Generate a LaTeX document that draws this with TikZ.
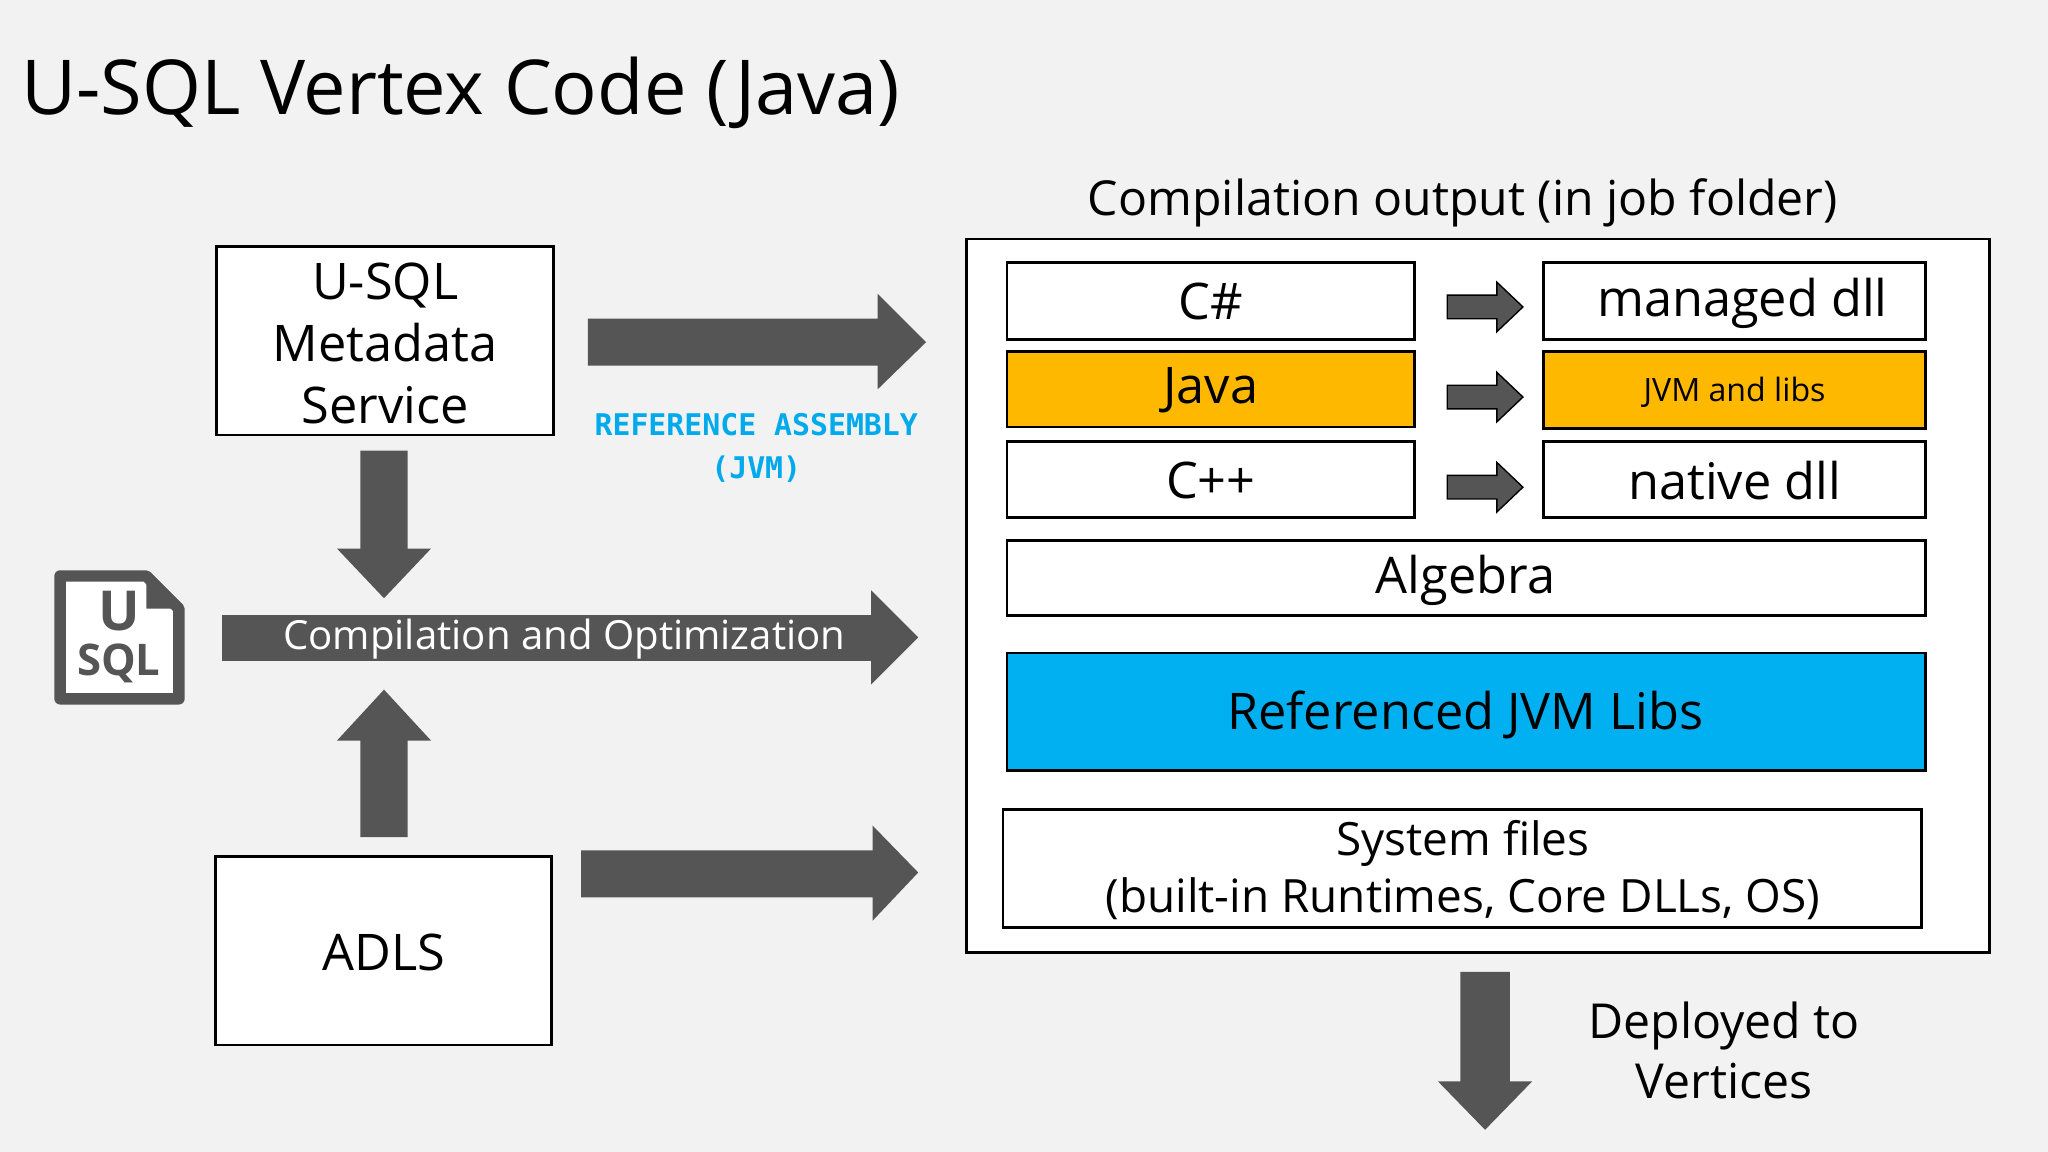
\documentclass[tikz,border=0pt]{standalone}
\usepackage{fontspec}
\setmainfont{Open Sans}
\newfontfamily\monofont{DejaVu Sans Mono}
\usetikzlibrary{positioning}
\definecolor{bggray}{RGB}{242,242,242}
\definecolor{arrowgray}{RGB}{85,85,85}
\definecolor{javaorange}{RGB}{255,184,0}
\definecolor{jvmblue}{RGB}{0,176,240}
\definecolor{refblue}{RGB}{0,170,235}

\tikzset{
  box/.style={draw=black, line width=1.2pt, fill=white, inner sep=0pt},
  bigarrow/.style={fill=arrowgray},
  boxtext/.style={font=\fontsize{22}{26}\selectfont, align=center},
}

\begin{document}
\begin{tikzpicture}[x=0.02cm,y=-0.02cm]
				\fill[bggray] (0,0) rectangle (1568,882);
				\useasboundingbox (0,0) rectangle (1568,882);
				% title
				\node[anchor=base west, font=\fontsize{33}{40}\selectfont] (title) at (10,88) {U-SQL Vertex Code (Java)};
				\node[font=\fontsize{21}{25}\selectfont] (outlabel) at (1120,155) {Compilation output (in job folder)};
				% left boxes
				\draw[box] (166,189) rectangle (424,333);
				\node[boxtext, text width=5cm] (meta) at (295,263) {U-SQL\\[1pt]Metadata\\[1pt]Service};
				\draw[box] (165,656) rectangle (422,800);
				\node[boxtext] (adls) at (294,729) {ADLS};
				% output container
				\draw[box] (740,183) rectangle (1523,729);
				\draw[box] (771,201) rectangle (1083,260);
				\node[boxtext] (cs) at (927,231) {C\#};
				\draw[box] (1182,201) rectangle (1474,260);
				\node[boxtext] (mdll) at (1334,232) {managed dll};
				\draw[box, fill=javaorange] (771,269) rectangle (1083,327);
				\node[boxtext] (java) at (927,299) {Java};
				\draw[box, fill=javaorange] (1182,269) rectangle (1474,328);
				\node[font=\fontsize{14}{17}\selectfont] (jvm) at (1328,300) {JVM and libs};
				\draw[box] (771,338) rectangle (1083,396);
				\node[boxtext] (cpp) at (927,368) {C++};
				\draw[box] (1182,338) rectangle (1474,396);
				\node[boxtext] (ndll) at (1328,368) {native dll};
				\draw[box] (771,414) rectangle (1474,471);
				\node[boxtext] (alg) at (1122,444) {Algebra};
				\draw[box, fill=jvmblue] (771,500) rectangle (1474,590);
				\node[boxtext] (reflibs) at (1122,547) {Referenced JVM Libs};
				\draw[box] (768,620) rectangle (1471,710);
				\node[font=\fontsize{20}{24}\selectfont, align=center] (sys) at (1120,666) {System files\\[1pt](built-in Runtimes, Core DLLs, OS)};
				% small arrows
				\foreach \yc in {235,304,373}
					\filldraw[fill=arrowgray, draw=black, line width=0.6pt] (1108,\yc-9) -- (1146,\yc-9) -- (1146,\yc-19) -- (1166,\yc) -- (1146,\yc+19) -- (1146,\yc+9) -- (1108,\yc+9) -- cycle;
				% big right arrows
				\fill[bigarrow] (450,244) -- (672,244) -- (672,225) -- (709,262) -- (672,298) -- (672,280) -- (450,280) -- cycle;
				\fill[bigarrow] (170,471) -- (667,471) -- (667,452) -- (703,488) -- (667,524) -- (667,506) -- (170,506) -- cycle;
				\fill[bigarrow] (445,651) -- (668,651) -- (668,632) -- (703,668) -- (668,705) -- (668,687) -- (445,687) -- cycle;
				\node[text=white, font=\fontsize{17.5}{22}\selectfont] (comp) at (432,489) {Compilation and Optimization};
				% vertical arrows
				\fill[bigarrow] (276,345) -- (312,345) -- (312,420) -- (330,420) -- (294,458) -- (258,420) -- (276,420) -- cycle;
				\fill[bigarrow] (276,641) -- (312,641) -- (312,567) -- (330,567) -- (294,528) -- (258,567) -- (276,567) -- cycle;
				\fill[bigarrow] (1118,744) -- (1156,744) -- (1156,828) -- (1173,828) -- (1137,865) -- (1101,828) -- (1118,828) -- cycle;
				\node[font=\fontsize{21}{25}\selectfont, align=center] (deploy) at (1320,804) {Deployed to\\[1pt]Vertices};
				% reference label
				\node[text=refblue, font=\monofont\bfseries\fontsize{13}{19}\selectfont, align=center] (refasm) at (579,343) {REFERENCE ASSEMBLY\\(JVM)};
				% U-SQL icon
				\draw[arrowgray, line width=5pt, line join=round, fill=white] (46,441) -- (112,441) -- (137,466) -- (137,535) -- (46,535) -- cycle;
				\fill[arrowgray] (112,441) -- (112,466) -- (137,466) -- cycle;
				\node[text=arrowgray, font=\bfseries\fontsize{24}{24}\selectfont] (iconu) at (91,468) {U};
				\node[text=arrowgray, font=\bfseries\fontsize{19}{19}\selectfont] (iconsql) at (91,508) {SQL};
			\end{tikzpicture}
\end{document}
